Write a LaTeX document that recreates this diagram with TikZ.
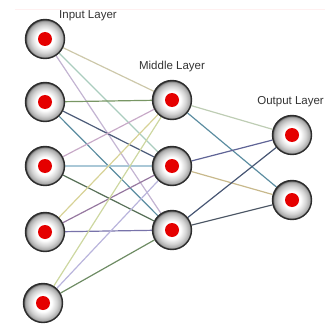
\documentclass[tikz,border=0pt]{standalone}
\usepackage{fontspec}
\setmainfont{Liberation Sans}
\usetikzlibrary{backgrounds}
\pgfdeclareradialshading{nodeshade}{\pgfpoint{0bp}{0bp}}{color(0bp)=(white); color(11bp)=(white); color(18bp)=(gray!35); color(23bp)=(gray!70); color(25bp)=(gray!55!black); color(50bp)=(gray!55!black)}
\definecolor{cTan}{RGB}{205,200,170}
\definecolor{cLGreen}{RGB}{170,205,190}
\definecolor{cLPurple}{RGB}{195,180,210}
\definecolor{cOlive}{RGB}{120,150,100}
\definecolor{cSlate}{RGB}{75,90,120}
\definecolor{cTeal}{RGB}{90,140,160}
\definecolor{cPink}{RGB}{200,170,200}
\definecolor{cLBlue}{RGB}{170,200,215}
\definecolor{cDOlive}{RGB}{85,110,85}
\definecolor{cYellow}{RGB}{215,210,150}
\definecolor{cMauve}{RGB}{150,120,160}
\definecolor{cPBlue}{RGB}{120,115,170}
\definecolor{cYGreen}{RGB}{205,215,160}
\definecolor{cLav}{RGB}{185,180,220}
\definecolor{cGreen2}{RGB}{110,140,100}
\definecolor{cPaleT}{RGB}{190,205,180}
\definecolor{cSlate2}{RGB}{95,100,150}
\definecolor{cTan2}{RGB}{200,185,140}
\definecolor{cDSlate}{RGB}{70,85,115}
\definecolor{cDGray}{RGB}{75,85,100}
\tikzset{
  neuron/.style={circle, minimum size=39pt, inner sep=0pt, draw=gray!35!black, line width=1.4pt, shading=nodeshade,
    path picture={\fill[red!90!black] (path picture bounding box.center) circle (7pt);}},
  conn/.style={line width=1.2pt},
  lbl/.style={font=\fontsize{11.5}{13}\selectfont, text=black!80, inner sep=0pt}
}
\begin{document}
\begin{tikzpicture}[x=1pt,y=-1pt]
\useasboundingbox (0,0) rectangle (325,326);
\draw[red!6, line width=1pt] (15,10) -- (325,10);
\node[neuron] (i1) at (45,39) {};
\node[neuron] (i2) at (45,102) {};
\node[neuron] (i3) at (45,166) {};
\node[neuron] (i4) at (45,232) {};
\node[neuron] (i5) at (43,303) {};
\node[neuron] (m1) at (172,100) {};
\node[neuron] (m2) at (172,166) {};
\node[neuron] (m3) at (172,230) {};
\node[neuron] (o1) at (292,135) {};
\node[neuron] (o2) at (292,200) {};
\node[lbl] (li) at (88,16) {Input Layer};
\node[lbl] (lm) at (172,67) {Middle Layer};
\node[lbl, anchor=east] (lo) at (324,102) {Output Layer};
\begin{pgfonlayer}{background}
\draw[conn, cTan] (i1) -- (m1);
\draw[conn, cLGreen] (i1) -- (m2);
\draw[conn, cLPurple] (i1) -- (m3);
\draw[conn, cOlive] (i2) -- (m1);
\draw[conn, cSlate] (i2) -- (m2);
\draw[conn, cTeal] (i2) -- (m3);
\draw[conn, cPink] (i3) -- (m1);
\draw[conn, cLBlue] (i3) -- (m2);
\draw[conn, cDOlive] (i3) -- (m3);
\draw[conn, cYellow] (i4) -- (m1);
\draw[conn, cMauve] (i4) -- (m2);
\draw[conn, cPBlue] (i4) -- (m3);
\draw[conn, cYGreen] (i5) -- (m1);
\draw[conn, cLav] (i5) -- (m2);
\draw[conn, cGreen2] (i5) -- (m3);
\draw[conn, cPaleT] (m1) -- (o1);
\draw[conn, cTeal] (m1) -- (o2);
\draw[conn, cSlate2] (m2) -- (o1);
\draw[conn, cTan2] (m2) -- (o2);
\draw[conn, cDSlate] (m3) -- (o1);
\draw[conn, cDGray] (m3) -- (o2);
\end{pgfonlayer}
\end{tikzpicture}
\end{document}
